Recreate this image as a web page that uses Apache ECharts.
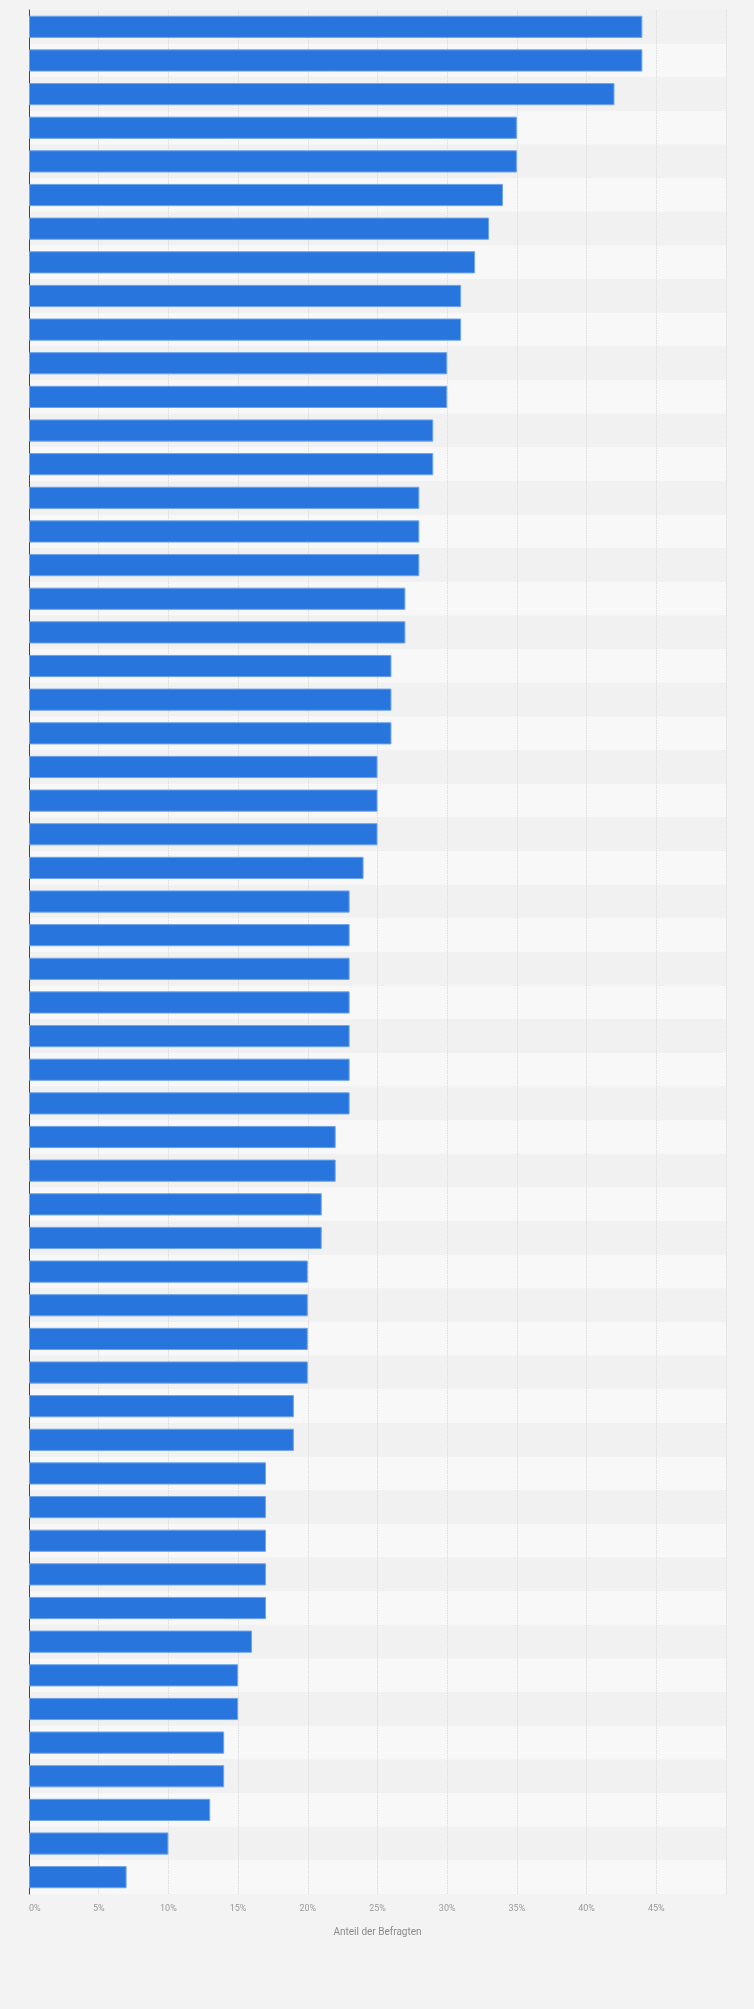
<!DOCTYPE html>
<html>
<head>
<meta charset="utf-8">
<script src="https://cdn.jsdelivr.net/npm/echarts@6/dist/echarts.min.js"></script>
<style>
html,body{margin:0;padding:0;background:#f4f4f4;}
#chart{width:754px;height:2009px;}
</style>
</head>
<body>
<div id="chart"></div>
<script>
var categories = [];
for (var i = 1; i <= 56; i++) categories.push('Kategorie ' + i);
var values = [44,44,42,35,35,34,33,32,31,31,30,30,29,29,28,28,28,27,27,26,26,26,25,25,25,24,23,23,23,23,23,23,23,22,22,21,21,20,20,20,20,19,19,17,17,17,17,17,16,15,15,14,14,13,10,7];
var xTicks = [0,5,10,15,20,25,30,35,40,45,50];
var axisTitle = 'Anteil der Befragten';

var chart = echarts.init(document.getElementById('chart'), null, {renderer:'canvas'});
chart.setOption({
  backgroundColor: '#f3f3f3',
  animation: false,
  grid: {left: 29, right: 28, top: 10, bottom: 115, containLabel: false},
  xAxis: {
    type: 'value',
    min: xTicks[0],
    max: xTicks[xTicks.length-1],
    interval: 5,
    name: axisTitle,
    nameLocation: 'middle',
    nameGap: 33,
    nameTextStyle: {color: '#8a8a8a', fontSize: 10, fontFamily: 'Roboto'},
    axisLine: {show: false},
    axisTick: {show: false},
    axisLabel: {
      color: '#9a9a9a', fontSize: 9, fontFamily: 'Roboto', margin: 10,
      showMaxLabel: false, alignMinLabel: 'left',
      formatter: function(v){ return v + '%'; }
    },
    splitLine: {show: true, lineStyle: {color: '#dddddd', type: [1.5,1], width: 1}}
  },
  yAxis: {
    type: 'category',
    data: categories,
    inverse: true,
    axisLine: {show: true, lineStyle: {color: '#444', width: 1}},
    axisTick: {show: false},
    axisLabel: {show: false},
    splitLine: {show: false},
    splitArea: {show: true, areaStyle: {color: ['#f1f1f1', '#f8f8f8']}}
  },
  series: [{
    type: 'bar',
    data: values,
    barCategoryGap: '34%',
    itemStyle: {color: '#2876dd', borderColor: '#6ea4ea', borderWidth: 1},
    silent: true
  }]
});
</script>
</body>
</html>
